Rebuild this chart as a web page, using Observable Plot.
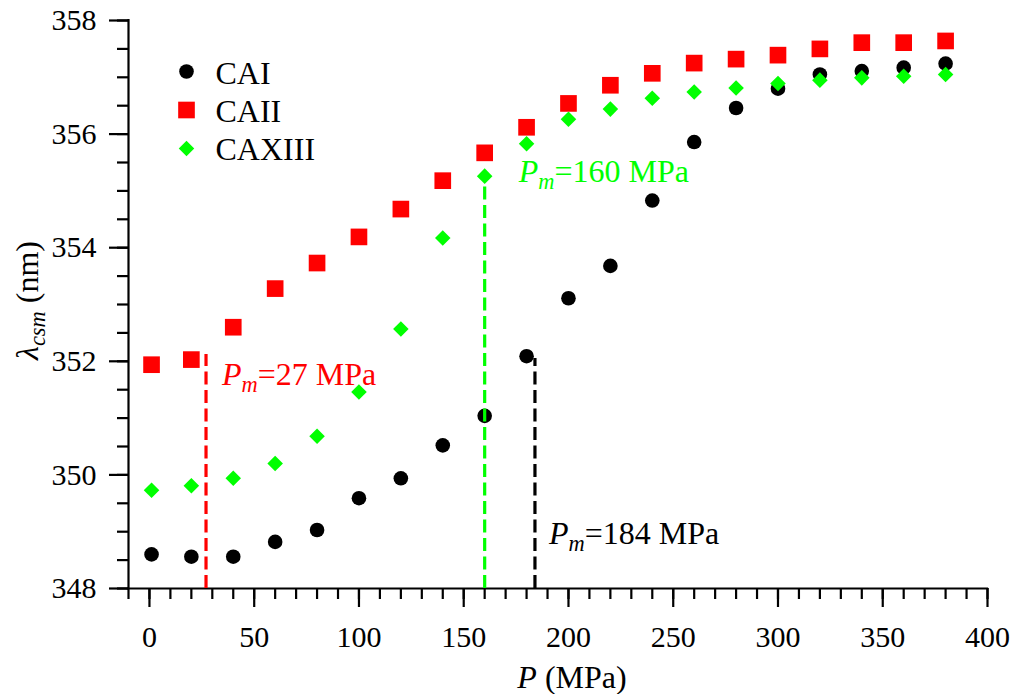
<!DOCTYPE html>
<html>
<head>
<meta charset="utf-8">
<script src="https://cdn.jsdelivr.net/npm/d3@7"></script>
<script src="https://cdn.jsdelivr.net/npm/@observablehq/plot@0.6"></script>
<style>
  body { margin: 0; background: #fff; }
  svg text { font-family: 'Liberation Serif', 'Times New Roman', serif !important; font-variant: normal !important; }
</style>
</head>
<body>
<div id="chart"></div>
<script>
// ---------- data ----------
const pressure = [1, 20, 40, 60, 80, 100, 120, 140, 160, 180, 200, 220, 240, 260, 280, 300, 320, 340, 360, 380];
const seriesNames = ["CAI", "CAII", "CAXIII"];
const caI = [348.60, 348.56, 348.56, 348.82, 349.03, 349.59, 349.94, 350.52, 351.04, 352.09, 353.11, 353.68, 354.83, 355.86, 356.46, 356.80, 357.05, 357.11, 357.17, 357.24];
const caII = [351.94, 352.03, 352.60, 353.28, 353.73, 354.19, 354.68, 355.18, 355.67, 356.12, 356.54, 356.86, 357.07, 357.25, 357.32, 357.39, 357.50, 357.61, 357.61, 357.64];
const caXIII = [349.73, 349.81, 349.94, 350.20, 350.68, 351.46, 352.57, 354.17, 355.26, 355.83, 356.26, 356.44, 356.63, 356.74, 356.81, 356.89, 356.95, 356.99, 357.02, 357.05];
const seriesValues = [caI, caII, caXIII];

// melting pressures (annotation) and where their dashed lines end
const meltPressure = [27, 160, 184];
const meltTop = [352.12, 355.07, 352.05];
const meltLabelY = [351.77, 355.34, 348.96];

// axes
const xDomain = [-10, 400];
const yDomain = [348, 358];
const xMajor = [0, 50, 100, 150, 200, 250, 300, 350, 400];
const xMinor = d3.range(-10, 401, 10);
const yMajor = [348, 350, 352, 354, 356, 358];
const yMinor = d3.range(348, 358.01, 0.5);

// ---------- styles ----------
const FONT = "'Liberation Serif', 'Times New Roman', serif";
const colors = ["#000000", "#ff0000", "#00ff00"];
const symbols = ["circle", "square", "diamond2"];
const radii = [7.3, 9.4, 7.0];
const meltDx = [16, 34, 14];

const rows = seriesNames.map((s, k) => pressure.map((p, i) => ({series: s, P: p, lambda: seriesValues[k][i]})));
const melt = meltPressure.map((pm, i) => ({pm, top: meltTop[i], ly: meltLabelY[i], color: colors[[1, 2, 0][i]], dx: meltDx[i]}));

const axisStyle = {label: null, strokeWidth: 2.2, fontFamily: FONT, fontSize: 30, fill: "black", stroke: "black"};

const marks = [
  // axis lines
  Plot.ruleX([xDomain[0]], {y1: yDomain[0], y2: yDomain[1], stroke: "black", strokeWidth: 2.2, strokeLinecap: "square"}),
  Plot.ruleY([yDomain[0]], {x1: xDomain[0], x2: xDomain[1], stroke: "black", strokeWidth: 2.2, strokeLinecap: "square"}),
  // ticks
  Plot.axisX({...axisStyle, ticks: xMinor, tickSize: 11, tickFormat: () => ""}),
  Plot.axisX({...axisStyle, ticks: xMajor, tickSize: 19, tickPadding: 18, tickFormat: d3.format("d")}),
  Plot.axisY({...axisStyle, ticks: yMinor, tickSize: 11, tickFormat: () => ""}),
  Plot.axisY({...axisStyle, ticks: yMajor, tickSize: 19, tickPadding: 13, tickFormat: d3.format("d")}),
  // data
  ...rows.map((r, k) => Plot.dot(r, {x: "P", y: "lambda", symbol: () => symbols[k], r: radii[k], fill: colors[k], stroke: "none"})),
  // dashed melting-pressure lines
  ...melt.map(m => Plot.ruleX([m], {x: "pm", y1: yDomain[0], y2: "top", stroke: m.color, strokeWidth: 3.2, strokeDasharray: "13,5.5"})),
  ...melt.map(m => Plot.text([m], {x: "pm", y: "ly", text: d => `P_m=${d.pm} MPa`, fill: m.color, textAnchor: "start", dx: m.dx, lineAnchor: "middle", fontSize: 32, fontFamily: FONT})),
  // legend
  ...seriesNames.map((s, k) => Plot.dot([s], {frameAnchor: "top-left", dx: 58, dy: 51 + k * 38.5, symbol: () => symbols[k], r: radii[k], fill: colors[k], stroke: "none"})),
  ...seriesNames.map((s, k) => Plot.text([s], {frameAnchor: "top-left", dx: 87, dy: 53 + k * 38, text: d => d, textAnchor: "start", lineAnchor: "middle", fill: "black", fontSize: 32, fontFamily: FONT})),
  // axis labels
  Plot.text(["P (MPa)"], {frameAnchor: "bottom", text: d => d, dx: 14, dy: 89, textAnchor: "middle", lineAnchor: "middle", fill: "black", fontSize: 32, fontFamily: FONT}),
  Plot.text(["λ_csm (nm)"], {frameAnchor: "left", text: d => d, rotate: -90, dx: -101, dy: -4, textAnchor: "middle", lineAnchor: "middle", fill: "black", fontSize: 32, fontFamily: FONT})
];

const chart = Plot.plot({
  width: 1011,
  height: 694,
  marginLeft: 128,
  marginRight: 24,
  marginTop: 20,
  marginBottom: 106,
  x: {domain: xDomain, label: null},
  y: {domain: yDomain, label: null},
  style: {fontFamily: FONT, fontSize: "30px", color: "black", background: "white", overflow: "visible"},
  marks
});

// ---------- rich text (italics, subscripts) ----------
const NS = "http://www.w3.org/2000/svg";
function setRich(el, parts) {
  el.textContent = "";
  let shifted = false;
  for (const [t, italic, sub] of parts) {
    const ts = document.createElementNS(NS, "tspan");
    ts.textContent = t;
    if (italic) ts.setAttribute("font-style", "italic");
    if (sub) {
      ts.style.fontSize = "70%";
      if (!shifted) { ts.setAttribute("dy", "7"); shifted = true; }
    } else if (shifted) {
      ts.setAttribute("dy", "-7"); shifted = false;
    }
    el.appendChild(ts);
  }
}
const rich = new Map([
  ["P (MPa)", [["P", true], [" (MPa)"]]],
  ["λ_csm (nm)", [["λ", true], ["csm", true, true], [" (nm)"]]],
  ...meltPressure.map(pm => [`P_m=${pm} MPa`, [["P", true], ["m", true, true], [`=${pm} MPa`]]])
]);
chart.querySelectorAll("text").forEach(t => {
  t.style.fontFamily = FONT;
  t.style.fontVariant = "normal";
  const parts = rich.get(t.textContent);
  if (parts) setRich(t, parts);
});
chart.querySelectorAll("g").forEach(g => {
  if (g.getAttribute("font-family")) g.setAttribute("font-family", FONT);
  if (g.getAttribute("font-variant")) g.removeAttribute("font-variant");
});

document.getElementById("chart").appendChild(chart);
</script>
</body>
</html>
